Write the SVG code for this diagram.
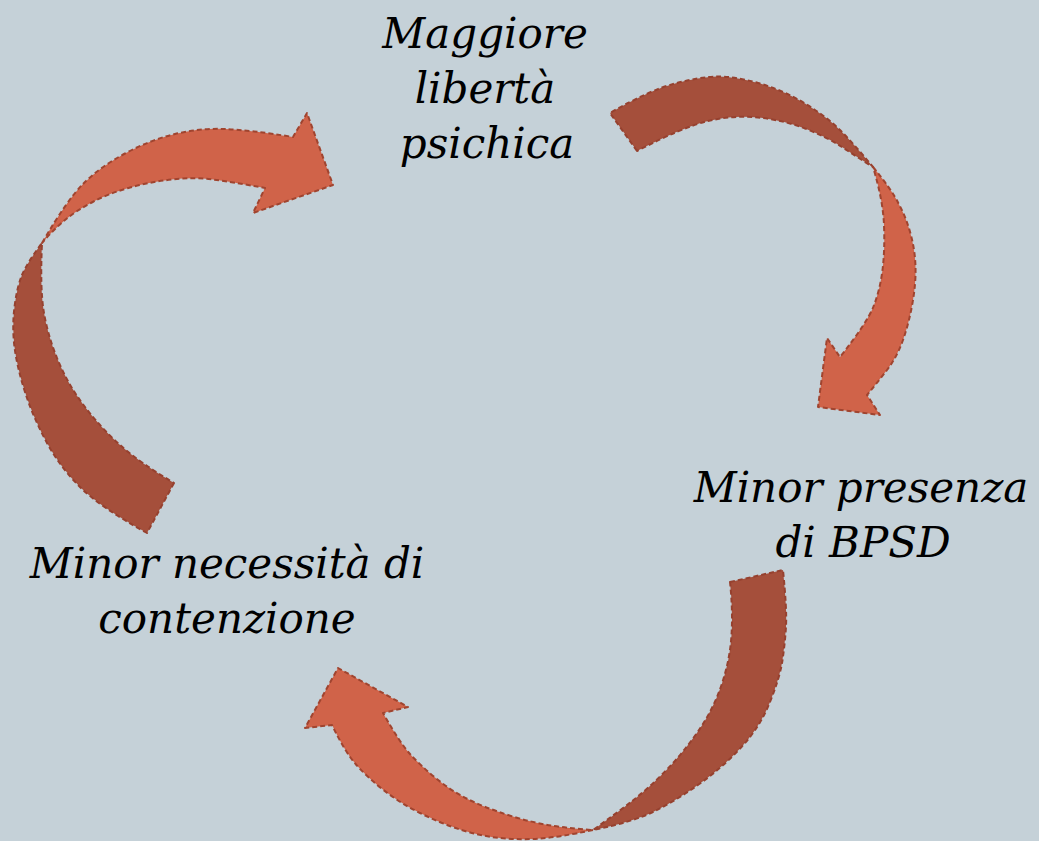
<svg xmlns="http://www.w3.org/2000/svg" width="1039" height="841" viewBox="0 0 1039 841">
<style>
.dark{fill:#a54f3b;stroke:#96412f;stroke-width:2;stroke-dasharray:5 3;stroke-linejoin:round}
.light{fill:#d06349;stroke:#a0442f;stroke-width:2;stroke-dasharray:5 3;stroke-linejoin:round}
.lbl{font-family:"DejaVu Serif","Liberation Serif",serif;font-style:italic;font-size:42px;fill:#000;text-anchor:middle}
</style>
<rect width="1039" height="841" fill="#c5d1d8"/>
<g id="connectors">
<g id="arrow-left">
<path class="dark" d="M174,483 L147,533 Q100,507 80,487 Q60,467 46.5,442 Q33,417 25,392 Q17,367 14.5,347 Q12,327 14.5,307 Q17,287 22,275 Q27,263 42,243 Q40,287 43.5,310 Q47,333 57,358 Q67,383 83.5,405 Q100,427 120,445 Q140,463 174,483 Z"/>
<path class="light" d="M42,243 Q67,200 83.5,183.5 Q100,167 125,153.5 Q150,140 175,134 Q200,128 225,129 Q250,130 293,137 L307,113 L333,185 L253,213 L265,188 Q233,182 213,179.5 Q193,177 171.5,179.5 Q150,182 130,187.5 Q110,193 93.5,201.5 Q77,210 65,220 Q53,230 42,243 Z"/>
</g>
<g id="arrow-right">
<path class="dark" d="M637,151 L610,113 Q650,90 675,83.5 Q700,77 716.5,76.5 Q733,76 758,83 Q783,90 805,103.5 Q827,117 840,130 Q853,143 873,167 Q857,157 842,147 Q827,137 805,128.5 Q783,120 758,117.5 Q733,115 708,121 Q683,127 637,151 Z"/>
<path class="light" d="M873,167 Q892,190 898.5,203.5 Q906,217 910.5,233.5 Q915,250 915.5,266.5 Q916,283 912.5,303 Q909,323 903,340 Q897,357 887,370 Q877,383 867,395 L880,415 L818,407 L827,338 L840,357 Q867,323 873.5,306.5 Q880,290 882.5,270 Q885,250 884,225 Q883,200 873,167 Z"/>
</g>
<g id="arrow-bottom">
<path class="dark" d="M730,582 L783,570 Q787,610 786,626.5 Q785,643 782.5,660 Q780,677 770,702 Q760,727 741.5,747 Q723,767 700,783.5 Q677,800 655,811 Q633,822 593,830 Q617,813 633.5,800 Q650,787 666.5,770 Q683,753 698,731.5 Q713,710 721.5,685 Q730,660 731.5,635 Q733,610 730,582 Z"/>
<path class="light" d="M593,830 Q560,837 540,838.5 Q520,840 500,838 Q480,836 460,829.5 Q440,823 420,813 Q400,803 383.5,790 Q367,777 356,764.5 Q345,752 332,725 L305,728 L338,668 L408,707 L383,713 Q400,743 410,754 Q420,765 435,777.5 Q450,790 466.5,798.5 Q483,807 508,815 Q533,823 554,826 Q575,829 593,830 Z"/>
</g>
</g>
<g id="node-top">
<text class="lbl" x="485" y="48">Maggiore</text>
<text class="lbl" x="485" y="103">libertà</text>
<text class="lbl" x="487" y="158">psichica</text>
</g>
<g id="node-right">
<text class="lbl" x="861" y="502">Minor presenza</text>
<text class="lbl" x="863" y="557">di BPSD</text>
</g>
<g id="node-left">
<text class="lbl" x="227" y="578">Minor necessità di</text>
<text class="lbl" x="227" y="633">contenzione</text>
</g>
</svg>
